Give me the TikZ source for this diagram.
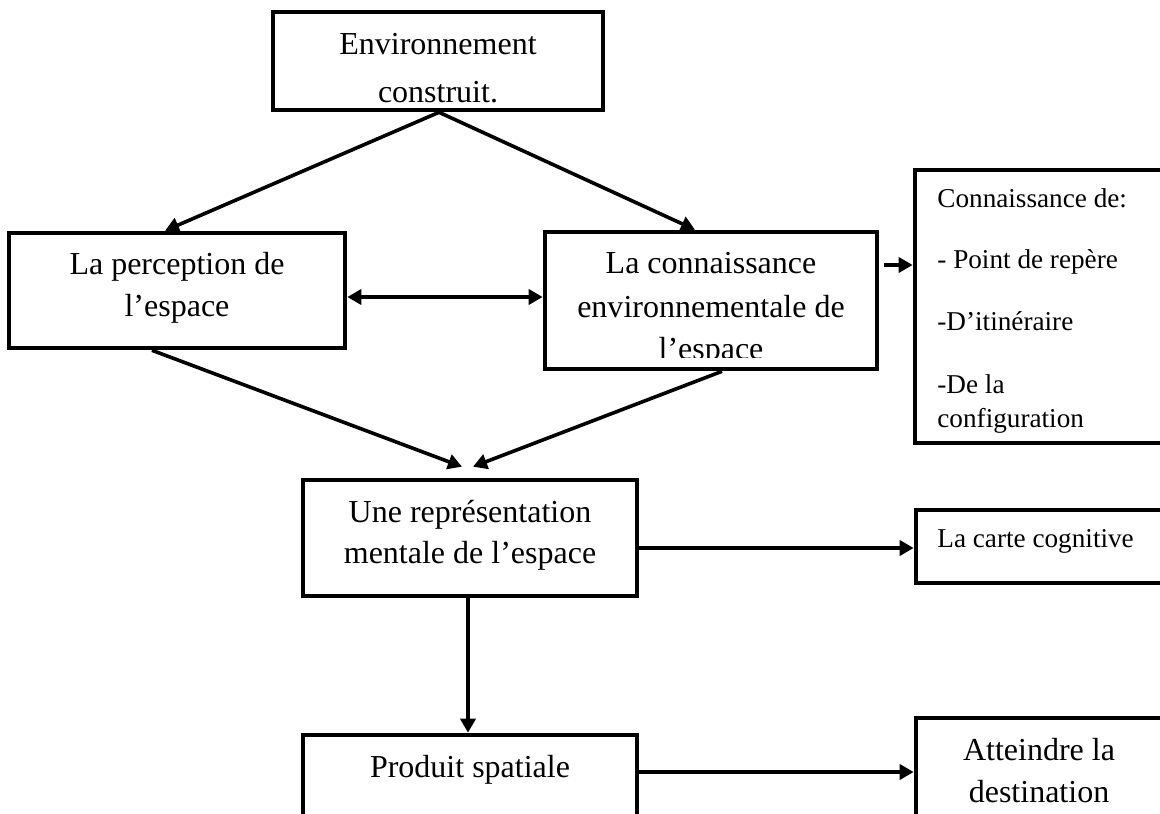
\documentclass[tikz,border=0pt]{standalone}
\usepackage{fontspec}
\setmainfont{Liberation Serif}
\usetikzlibrary{arrows.meta,calc}
\begin{document}
\begin{tikzpicture}[x=0.5pt,y=-0.5pt,
  box/.style={draw,line width=2.3pt,rectangle,inner sep=0pt},
  big/.style={font=\fontsize{16}{19}\selectfont,anchor=base,inner sep=0pt},
  small/.style={font=\fontsize{13.6}{16}\selectfont,anchor=base west,inner sep=0pt},
  arr/.style={line width=1.8pt,-{Triangle[length=7pt,width=7.5pt]}},
  dbl/.style={line width=1.8pt,{Triangle[length=7pt,width=7.5pt]}-{Triangle[length=7pt,width=7.5pt]}}]
\useasboundingbox (0,0) rectangle (1160,813);
\clip (0,0) rectangle (1160,813);
\fill[white] (0,0) rectangle (1160,813);

% boxes
\node[box,minimum width=165pt,minimum height=49pt]   (env)   at (438,61)     {};
\node[box,minimum width=168pt,minimum height=57.5pt] (perc)  at (177,290.5)  {};
\node[box,minimum width=166pt,minimum height=68.5pt] (conn)  at (711,300.5)  {};
\node[box,minimum width=127.5pt,minimum height=136.5pt] (know) at (1042.5,306.5) {};
\node[box,minimum width=167pt,minimum height=58pt]   (rep)   at (470,538)    {};
\node[box,minimum width=127pt,minimum height=36.5pt] (carte) at (1043,546.5) {};
\node[box,minimum width=167pt,minimum height=47.5pt] (prod)  at (470,782.5)  {};
\node[box,minimum width=127pt,minimum height=56pt]   (goal)  at (1043,774)   {};

% texts
\node[big] (env1) at (438,55)  {Environnement};
\node[big] (env2) at (438,103) {construit.};
\node[big] (perc1) at (177,274) {La perception de};
\node[big] (perc2) at (177,316) {l’espace};
\node[big] (conn1) at (711,273) {La connaissance};
\node[big] (conn2) at (711,317) {environnementale de};
\begin{scope}
  \clip (545,232) rectangle (877,357);
  \node[big] (conn3) at (711,359) {l’espace};
\end{scope}
\node[small] (know1) at (937,207) {Connaissance de:};
\node[small] (know2) at (937,268) {- Point de repère};
\node[small] (know3) at (937,330) {-D’itinéraire};
\node[small] (know4) at (937,393) {-De la};
\node[small] (know5) at (937,427) {configuration};
\node[big] (rep1) at (470,522) {Une représentation};
\node[big] (rep2) at (470,563) {mentale de l’espace};
\node[small] (carte1) at (937,547) {La carte cognitive};
\node[big] (prod1) at (470,777) {Produit spatiale};
\node[big] (goal1) at (1039,760) {Atteindre la};
\node[big] (goal2) at (1039,802) {destination};

% connectors
\draw[arr] ($(env.south)+(1,0)$) -- ($(perc.north)+(-12,0)$);
\draw[arr] ($(env.south)+(1,0)$) -- ($(conn.north)+(-16,0)$);
\draw[dbl] ($(perc.east)+(0,6.5)$) -- ($(conn.west)+(0,-3.5)$);
\draw[arr] ($(conn.east)+(5,-35.5)$) -- ($(know.west)+(0,-41.5)$);
\draw[arr] ($(perc.south)+(-25,0)$) -- ($(rep.north)+(-8,-11)$);
\draw[arr] ($(conn.south)+(11,0)$) -- ($(rep.north)+(3,-11)$);
\draw[arr] ($(rep.east)+(0,10)$) -- ($(carte.west)+(0,1.5)$);
\draw[arr] ($(rep.south)+(-2,0)$) -- ($(prod.north)+(-2,0)$);
\draw[arr] ($(prod.east)+(0,-10.5)$) -- ($(goal.west)+(0,-2)$);
\end{tikzpicture}
\end{document}
